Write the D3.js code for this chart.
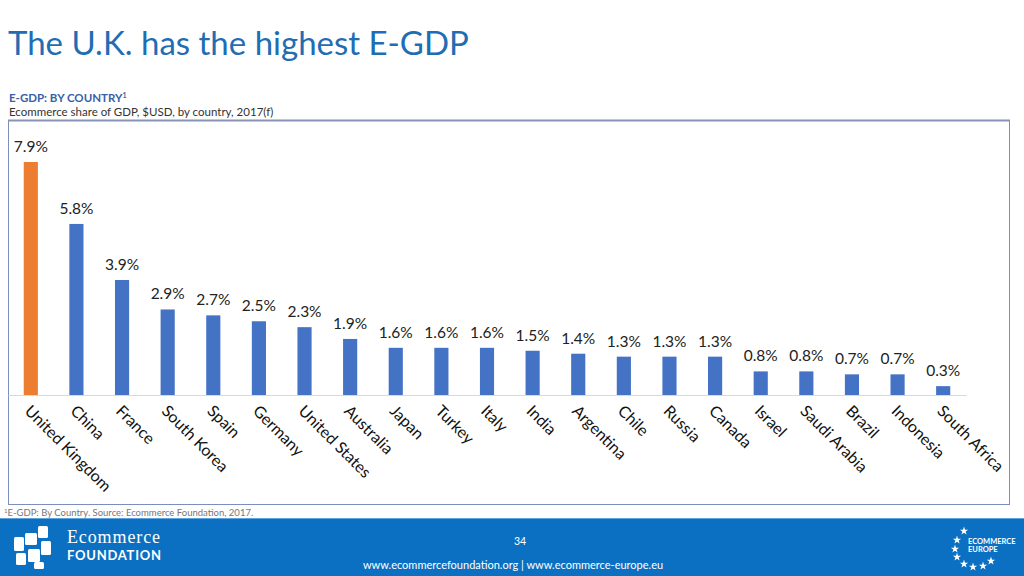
<!DOCTYPE html>
<html><head><meta charset="utf-8">
<script src="https://cdn.jsdelivr.net/npm/d3@7"></script>
<style>
html,body{margin:0;padding:0;background:#fff;}
svg{display:block;font-family:Lato,"Open Sans",sans-serif;}
</style></head>
<body>
<svg id="c" width="1024" height="576"></svg>
<script>
const countries = ["United Kingdom","China","France","South Korea","Spain","Germany","United States","Australia","Japan","Turkey","Italy","India","Argentina","Chile","Russia","Canada","Israel","Saudi Arabia","Brazil","Indonesia","South Africa"];
const values = [7.9,5.8,3.9,2.9,2.7,2.5,2.3,1.9,1.6,1.6,1.6,1.5,1.4,1.3,1.3,1.3,0.8,0.8,0.7,0.7,0.3];
const highlight = ["United Kingdom"];

const svg = d3.select("#c");
const font = "Lato, 'Open Sans', sans-serif";

// Title
svg.append("text").attr("x",8).attr("y",55).attr("font-size",33).attr("fill","#1F6DB3")
  .text("The U.K. has the highest E-GDP");

// Subtitles
svg.append("text").attr("x",9).attr("y",102).attr("font-size",11.5).attr("font-weight","bold").attr("fill","#3A5FA8")
  .text("E-GDP: BY COUNTRY").append("tspan").attr("font-size",7).attr("dy",-4).text("1");
svg.append("text").attr("x",9).attr("y",116).attr("font-size",11.5).attr("fill","#333")
  .text("Ecommerce share of GDP, $USD, by country, 2017(f)");

// Frame
svg.append("rect").attr("x",8.5).attr("y",120.5).attr("width",1001).attr("height",384)
  .attr("fill","none").attr("stroke","#7C8DBF").attr("stroke-width",1);
svg.append("line").attr("x1",8).attr("x2",1010).attr("y1",120.5).attr("y2",120.5)
  .attr("stroke","#8894B4").attr("stroke-width",2);

// Scales
const x = d3.scaleBand().domain(countries).range([8, 966]).paddingInner(0.69).paddingOuter(0.345);
const y = d3.scaleLinear().domain([0, 7.9]).range([395, 162]);

const g = svg.append("g");
g.selectAll("rect.bar").data(countries).join("rect").attr("class","bar")
  .attr("x",d=>x(d)).attr("width",x.bandwidth())
  .attr("y",(d,i)=>y(values[i])).attr("height",(d,i)=>y(0)-y(values[i]))
  .attr("fill",d=>highlight.includes(d)?"#ED7D31":"#4472C4");

// baseline axis
const axis = d3.axisBottom(x).tickSize(0).tickPadding(0);
const ax = svg.append("g").attr("transform","translate(0,395)").call(axis);
ax.select(".domain").attr("stroke","#D9D9D9").attr("stroke-width",1);
ax.selectAll(".tick text")
  .attr("font-family",font).attr("font-size",16).attr("fill","#111")
  .attr("text-anchor","start").attr("dy",0)
  .attr("transform","translate(-7,17) rotate(45)");

// value labels
g.selectAll("text.val").data(countries).join("text").attr("class","val")
  .attr("x",d=>x(d)+x.bandwidth()/2).attr("y",(d,i)=>y(values[i])-10)
  .attr("text-anchor","middle").attr("font-size",15.5).attr("fill","#222")
  .text((d,i)=>values[i].toFixed(1)+"%");

// Footnote
svg.append("text").attr("x",4).attr("y",516).attr("font-size",9.5).attr("fill","#777")
  .text("").call(t=>{t.append("tspan").attr("font-size",6).attr("dy",-3).text("1");
    t.append("tspan").attr("dy",3).text("E-GDP: By Country. Source: Ecommerce Foundation, 2017.");});

// Footer band
svg.append("rect").attr("x",0).attr("y",518).attr("width",1024).attr("height",58).attr("fill","#0B70C1");
svg.append("line").attr("x1",0).attr("x2",1024).attr("y1",518.5).attr("y2",518.5).attr("stroke","#5FA4DE").attr("stroke-width",1);
svg.append("text").attr("x",520).attr("y",545).attr("text-anchor","middle").attr("font-size",10.5).attr("fill","#fff").text("34");
svg.append("text").attr("x",513).attr("y",569).attr("text-anchor","middle").attr("font-size",11).attr("fill","#fff")
  .text("www.ecommercefoundation.org  |  www.ecommerce-europe.eu");

// Ecommerce Foundation logo (simple shapes)
const lg = svg.append("g").attr("fill","#fff");
[[14,537,10,14],[25,533,12,12],[38,526,10,12],[16,553,10,12],[28,549,12,13],[41,541,10,14],[34,562,10,7]].forEach(r=>{
  lg.append("rect").attr("x",r[0]).attr("y",r[1]).attr("width",r[2]).attr("height",r[3]).attr("rx",1.5);
});
svg.append("text").attr("x",67).attr("y",543).attr("font-family","'Liberation Serif', serif").attr("font-size",18)
  .attr("textLength",93).attr("fill","#fff").text("Ecommerce");
svg.append("text").attr("x",67).attr("y",560).attr("font-size",13).attr("font-weight","bold")
  .attr("textLength",94).attr("fill","#fff").text("FOUNDATION");

// Ecommerce Europe stars
const starG = svg.append("g").attr("fill","#fff");
const star = d3.symbol().type(d3.symbolStar).size(22);
[[964,531],[957,540],[955,549],[957,557],[964,564],[973,567],[983,566],[991,561]].forEach(p=>{
  starG.append("path").attr("d",star()).attr("transform",`translate(${p[0]},${p[1]})`);
});
svg.append("text").attr("x",968).attr("y",544).attr("font-size",7.5).attr("font-weight","bold").attr("fill","#fff").text("ECOMMERCE");
svg.append("text").attr("x",968).attr("y",552).attr("font-size",7.5).attr("font-weight","bold").attr("fill","#fff").text("EUROPE");
</script>
</body></html>
